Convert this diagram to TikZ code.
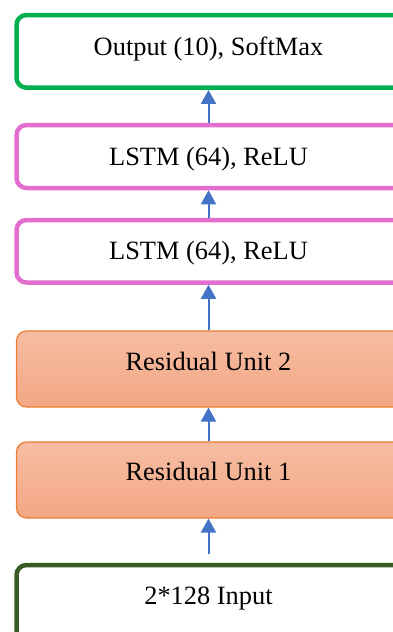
\documentclass[tikz,border=0pt]{standalone}
\usepackage{fontspec}
\setmainfont{Liberation Serif}
\usetikzlibrary{arrows.meta}
\definecolor{outgreen}{HTML}{00B050}
\definecolor{lstmpink}{HTML}{E26FD0}
\definecolor{ingreen}{HTML}{3A5A24}
\definecolor{resborder}{HTML}{ED7D31}
\definecolor{restop}{HTML}{F6BDA3}
\definecolor{resbottom}{HTML}{F4A684}
\definecolor{arrowblue}{HTML}{4472C4}
\begin{document}
\begin{tikzpicture}[x=1pt,y=-1pt,
  box/.style={draw, rounded corners=10pt, minimum width=403.5pt, inner sep=0pt},
  layerbox/.style={box, line width=4.5pt, fill=white},
  resbox/.style={box, draw=resborder, line width=1.2pt, top color=restop, bottom color=resbottom},
  lbl/.style={anchor=base, inner sep=0pt, font=\fontsize{26.4}{30}\selectfont},
  flow/.style={draw=arrowblue, line width=2pt, -{Triangle[width=15pt,length=14pt]}}
]
\useasboundingbox (0,0) rectangle (393,632);
\clip (0,0) rectangle (393,632);

% layer boxes, bottom to top (they run on past the right margin)
\node[layerbox, draw=ingreen, minimum height=75pt] (inp) at (218.25,602.5) {};
\node[resbox, minimum height=76pt] (resA) at (218.25,480) {};
\node[resbox, minimum height=76pt] (resB) at (218.25,369) {};
\node[layerbox, draw=lstmpink, minimum height=62.5pt] (lstmA) at (218.25,251.25) {};
\node[layerbox, draw=lstmpink, minimum height=63pt] (lstmB) at (218.25,156.5) {};
\node[layerbox, draw=outgreen, minimum height=72.7pt] (out) at (218.25,51.35) {};

% layer captions
\node[lbl] (tInp) at (208.5,604) {2*128 Input};
\node[lbl] (tResA) at (208.5,480.5) {Residual Unit 1};
\node[lbl] (tResB) at (208.5,370) {Residual Unit 2};
\node[lbl] (tLstmA) at (208.5,259) {LSTM (64), ReLU};
\node[lbl] (tLstmB) at (208.5,165.5) {LSTM (64), ReLU};
\node[lbl] (tOut) at (208.5,55.5) {Output (10), SoftMax};

% data flow, on the axis of the captions
\draw[flow, shorten <=8.75pt] (inp.north -| tInp) -- (resA.south -| tInp);
\draw[flow] (resA.north -| tResA) -- (resB.south -| tResA);
\draw[flow] (resB.north -| tResB) -- (lstmA.south -| tResB);
\draw[flow] (lstmA.north -| tLstmA) -- (lstmB.south -| tLstmA);
\draw[flow] (lstmB.north -| tLstmB) -- (out.south -| tLstmB);
\end{tikzpicture}
\end{document}
